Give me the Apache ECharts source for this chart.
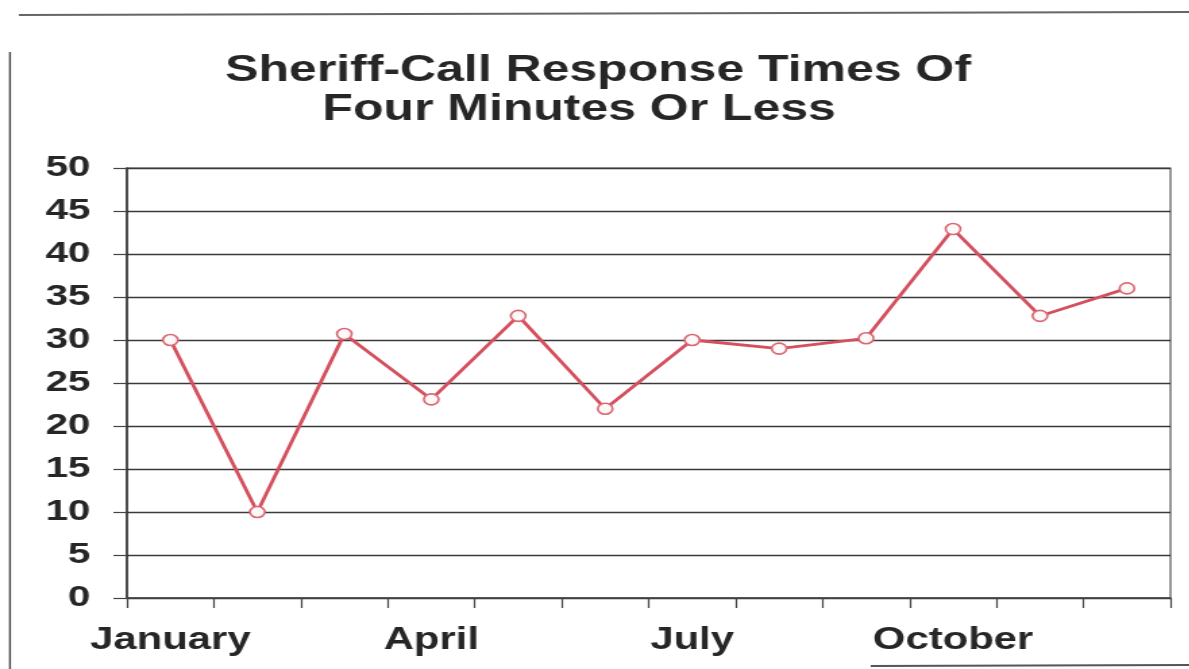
<!DOCTYPE html>
<html>
<head>
<meta charset="utf-8">
<script src="https://cdn.jsdelivr.net/npm/echarts@6/dist/echarts.min.js"></script>
<style>
  html, body { margin: 0; padding: 0; background: #ffffff; overflow: hidden; }
  /* the chart is laid out narrower and widened horizontally, giving the wide lettering of the printed page */
  #chart { width: 881px; height: 669px; transform: scaleX(1.35); transform-origin: 0 0; }
</style>
</head>
<body>
<div id="chart"></div>
<script>
// Monthly share of sheriff calls answered within four minutes
const months = ['January', 'February', 'March', 'April', 'May', 'June',
                'July', 'August', 'September', 'October', 'November', 'December'];
const responseShare = [30, 10, 30.7, 23.1, 32.8, 22, 30, 29, 30.2, 42.9, 32.8, 36];
const titleLines = ['Sheriff-Call Response Times Of', 'Four Minutes Or Less'];

const chart = echarts.init(document.getElementById('chart'));
const ink = '#262626';
const font = '"Liberation Sans", Arial, sans-serif';

chart.setOption({
  animation: false,
  backgroundColor: '#ffffff',
  title: [
    {
      text: titleLines[0], left: 438, top: 47, textAlign: 'center',
      textStyle: { fontFamily: font, fontWeight: 'bold', fontSize: 37, color: ink }
    },
    {
      text: titleLines[1], left: 424, top: 86, textAlign: 'center',
      textStyle: { fontFamily: font, fontWeight: 'bold', fontSize: 37, color: ink }
    }
  ],
  grid: {
    left: 94, right: 14, top: 168, bottom: 71,
    show: true, borderColor: '#555', borderWidth: 1.2, backgroundColor: 'transparent'
  },
  xAxis: {
    type: 'category',
    data: months,
    boundaryGap: true,
    axisLine: { lineStyle: { color: '#444', width: 1.5 } },
    axisTick: { show: true, interval: 0, length: 10, lineStyle: { color: '#444', width: 1.2 } },
    axisLabel: {
      interval: 2, margin: 27,
      fontFamily: font, fontWeight: 'bold', fontSize: 31, color: ink
    },
    splitLine: { show: false }
  },
  yAxis: {
    type: 'value',
    min: 0, max: 50, interval: 5,
    axisLine: { show: true, lineStyle: { color: '#333', width: 1.5 } },
    axisTick: { show: true, length: 10, lineStyle: { color: '#444', width: 1.2 } },
    axisLabel: {
      margin: 27,
      fontFamily: font, fontWeight: 'bold', fontSize: 30, color: ink
    },
    splitLine: { show: true, lineStyle: { color: '#3a3a3a', width: 1.4 } }
  },
  series: [{
    type: 'line',
    data: responseShare,
    symbol: 'circle',
    symbolSize: 11,
    lineStyle: { color: '#d4505e', width: 2.8 },
    itemStyle: { color: '#fff8f8', borderColor: '#d86874', borderWidth: 1.6 },
    z: 3
  }],
  graphic: [
    // page frame edges
    { type: 'line', shape: { x1: 7.4, y1: 52, x2: 7.4, y2: 669 }, style: { stroke: '#444', lineWidth: 1.4 } },
    { type: 'line', shape: { x1: 14, y1: 15, x2: 881, y2: 12 }, style: { stroke: '#666', lineWidth: 2 } },
    { type: 'line', shape: { x1: 645, y1: 666, x2: 881, y2: 665 }, style: { stroke: '#555', lineWidth: 1.8 } }
  ]
});
</script>
</body>
</html>
